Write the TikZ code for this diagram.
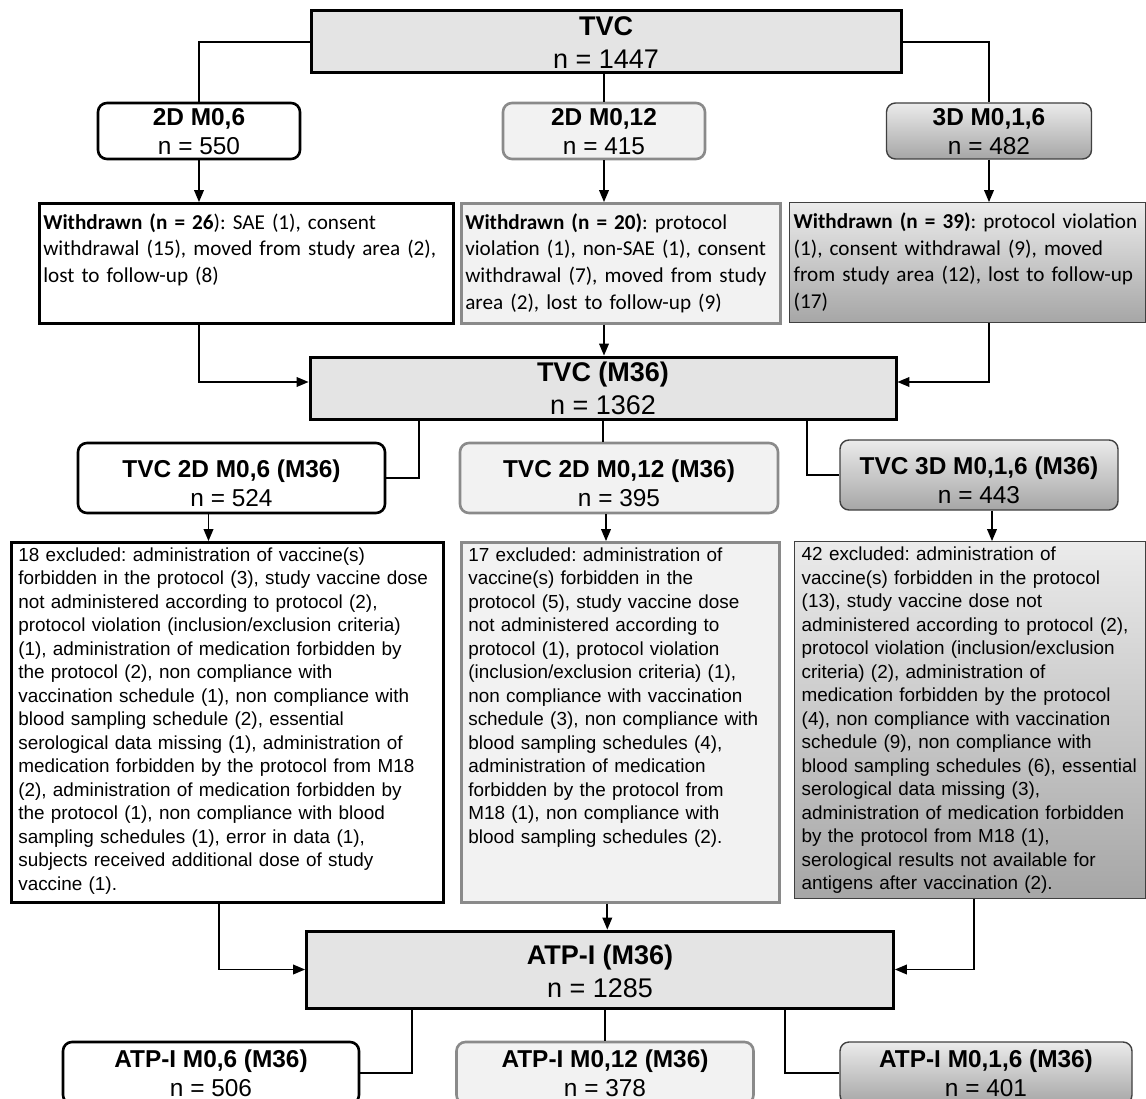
\documentclass[tikz,border=0pt]{standalone}
\usepackage{fontspec}
\setmainfont{Liberation Sans}
\newfontfamily\calibri{Carlito}
\usetikzlibrary{arrows}
\newcommand{\nobreakhyph}{\exhyphenpenalty=10000\relax}
\definecolor{tvcgray}{HTML}{E4E4E4}
\definecolor{palegray}{HTML}{F2F2F2}
\definecolor{paleedge}{HTML}{8A8A8A}
\definecolor{shadetop}{HTML}{EBEBEB}
\definecolor{shadebot}{HTML}{A6A6A6}
\tikzstyle{total} = [rectangle, draw=black, line width=3pt, fill=tvcgray,
align=center, inner sep=0pt, text height=53pt, text depth=0pt,
minimum height=62pt, font=\fontsize{27}{33}\selectfont]
\tikzstyle{arm} = [rectangle, rounded corners=9pt, align=center, inner sep=0pt,
text depth=0pt, font=\fontsize{24.4}{29}\selectfont]
\tikzstyle{note} = [rectangle, align=left, inner ysep=0pt, anchor=north west]
\tikzstyle{withdrawn} = [note, inner xsep=4pt, text height=26pt, text depth=94pt,
font={\calibri\fontsize{21.2}{26.6}\selectfont\frenchspacing\nobreakhyph}]
\tikzstyle{excluded} = [note, inner xsep=7pt, text height=19pt,
font={\fontsize{18.9}{23.5}\selectfont\frenchspacing\nobreakhyph}]
\tikzstyle{grpone} = [draw=black, line width=2.6pt, fill=white]
\tikzstyle{grptwo} = [draw=paleedge, line width=2.6pt, fill=palegray]
\tikzstyle{grpthree} = [draw=black!75, line width=1.4pt, top color=shadetop,
bottom color=shadebot]
\tikzstyle{link} = [line width=1.8pt]
\tikzset{>={triangle 45}}
\newcommand{\drop}[2]{ %
  % Straight arrow from #1 down onto the top of node #2.
  \draw[->,link] (#1) -- (#1 |- #2.north) ;%
}

\begin{document}
\begin{tikzpicture}[x=1pt, y=-1pt]
  \useasboundingbox (0,0) rectangle (1146,1099);

  % enrolled cohort and the three schedules
  \node[total, minimum width=590pt] (tvc) at (606,42) {\textbf{TVC}\\n = 1447};
  \node[arm, grpone, minimum width=202pt, minimum height=56pt, text height=48pt]
    (arm06) at (199,131) {\textbf{2D M0,6}\\n = 550};
  \node[arm, grptwo, minimum width=202pt, minimum height=56pt, text height=48pt]
    (arm012) at (604,131) {\textbf{2D M0,12}\\n = 415};
  \node[arm, grpthree, minimum width=205pt, minimum height=56pt, text height=48pt]
    (arm016) at (989,131) {\textbf{3D M0,1,6}\\n = 482};

  \node[withdrawn, grpone, text width=406pt] (wd06) at (38,202)
    {\textbf{Withdrawn (n = 26}): SAE (1), consent\\
     withdrawal (15), moved from study area (2),\\
     lost to follow-up (8)};
  \node[withdrawn, grptwo, text width=311pt] (wd012) at (460,202)
    {\textbf{Withdrawn (n = 20)}: protocol\\
     violation (1), non-SAE (1), consent\\
     withdrawal (7), moved from study\\
     area (2), lost to follow-up (9)};
  \node[withdrawn, grpthree, text width=348pt] (wd016) at (789,202)
    {\textbf{Withdrawn (n = 39)}: protocol violation\\
     (1), consent withdrawal (9), moved\\
     from study area (12), lost to follow-up\\
     (17)};

  % month 36
  \node[total, minimum width=586pt] (tvc36) at (603,388) {\textbf{TVC (M36)}\\n = 1362};
  \node[arm, grpone, minimum width=307pt, minimum height=70pt, text height=56pt]
    (tvc06) at (231.5,478) {\textbf{TVC 2D M0,6 (M36)}\\n = 524};
  \node[arm, grptwo, minimum width=318pt, minimum height=70pt, text height=56pt]
    (tvc012) at (619,478) {\textbf{TVC 2D M0,12 (M36)}\\n = 395};
  \node[arm, grpthree, minimum width=278pt, minimum height=70pt, text height=56pt]
    (tvc016) at (979,475) {\textbf{TVC 3D M0,1,6 (M36)}\\n = 443};

  \node[excluded, grpone, text width=418pt, text depth=341pt] (ex06) at (10,541)
    {18 excluded: administration of vaccine(s)\\
     forbidden in the protocol (3), study vaccine dose\\
     not administered according to protocol (2),\\
     protocol violation (inclusion/exclusion criteria)\\
     (1), administration of medication forbidden by\\
     the protocol (2), non compliance with\\
     vaccination schedule (1), non compliance with\\
     blood sampling schedule (2), essential\\
     serological data missing (1), administration of\\
     medication forbidden by the protocol from M18\\
     (2), administration of medication forbidden by\\
     the protocol (1), non compliance with blood\\
     sampling schedules (1), error in data (1),\\
     subjects received additional dose of study\\
     vaccine (1).};
  \node[excluded, grptwo, text width=304pt, text depth=341pt] (ex012) at (460,541)
    {17 excluded: administration of\\
     vaccine(s) forbidden in the\\
     protocol (5), study vaccine dose\\
     not administered according to\\
     protocol (1), protocol violation\\
     (inclusion/exclusion criteria) (1),\\
     non compliance with vaccination\\
     schedule (3), non compliance with\\
     blood sampling schedules (4),\\
     administration of medication\\
     forbidden by the protocol from\\
     M18 (1), non compliance with\\
     blood sampling schedules (2).};
  \node[excluded, grpthree, text width=337pt, text depth=338pt] (ex016) at (794,541)
    {42 excluded: administration of\\
     vaccine(s) forbidden in the protocol\\
     (13), study vaccine dose not\\
     administered according to protocol (2),\\
     protocol violation (inclusion/exclusion\\
     criteria) (2), administration of\\
     medication forbidden by the protocol\\
     (4), non compliance with vaccination\\
     schedule (9), non compliance with\\
     blood sampling schedules (6), essential\\
     serological data missing (3),\\
     administration of medication forbidden\\
     by the protocol from M18 (1),\\
     serological results not available for\\
     antigens after vaccination (2).};

  % according-to-protocol cohort
  \node[total, minimum width=587pt, minimum height=77pt, text height=55pt]
    (atp36) at (600,969.5) {\textbf{ATP-I (M36)}\\n = 1285};
  \node[arm, grpone, minimum width=296pt, minimum height=62pt, text height=46pt]
    (atp06) at (211,1073) {\textbf{ATP-I M0,6 (M36)}\\n = 506};
  \node[arm, grptwo, minimum width=297pt, minimum height=62pt, text height=46pt]
    (atp012) at (605,1073) {\textbf{ATP-I M0,12 (M36)}\\n = 378};
  \node[arm, grpthree, minimum width=292pt, minimum height=62pt, text height=46pt]
    (atp016) at (986,1073) {\textbf{ATP-I M0,1,6 (M36)}\\n = 401};

  % connectors
  \draw[link] (tvc.west) -| (arm06.north);
  \draw[link] (arm012.north |- tvc.south) -- (arm012.north);
  \draw[link] (tvc.east) -| (arm016.north);
  \drop{arm06.south}{wd06}
  \drop{arm012.south}{wd012}
  \drop{arm016.south}{wd016}

  \draw[->,link] (wd06.south -| arm06) |- ([yshift=6pt]tvc36.west);
  \draw[->,link] (wd012.south -| arm012) -- (tvc36.north -| arm012);
  \draw[->,link] (wd016.south -| arm016) |- ([yshift=6pt]tvc36.east);

  \draw[link] (tvc06.east) -| ([xshift=33pt]tvc06.east |- tvc36.south);
  \draw[link] (tvc36.south) -- (tvc36.south |- tvc012.north);
  \draw[link] (tvc016.west) -| ([xshift=-32pt]tvc016.west |- tvc36.south);
  \drop{[xshift=-23pt]tvc06.south}{ex06}
  \drop{[xshift=-13pt]tvc012.south}{ex012}
  \drop{[xshift=13pt]tvc016.south}{ex016}

  \draw[->,link] ([xshift=-8pt]ex06.south) |- (atp36.west);
  \draw[->,link] ([xshift=-13pt]ex012.south) -- ([xshift=-13pt]ex012.south |- atp36.north);
  \draw[->,link] ([xshift=4pt]ex016.south) |- (atp36.east);

  \draw[link] (atp06.east) -| ([xshift=52pt]atp06.east |- atp36.south);
  \draw[link] (atp012.north |- atp36.south) -- (atp012.north);
  \draw[link] (atp016.west) -| ([xshift=-54pt]atp016.west |- atp36.south);
\end{tikzpicture}
\end{document}
